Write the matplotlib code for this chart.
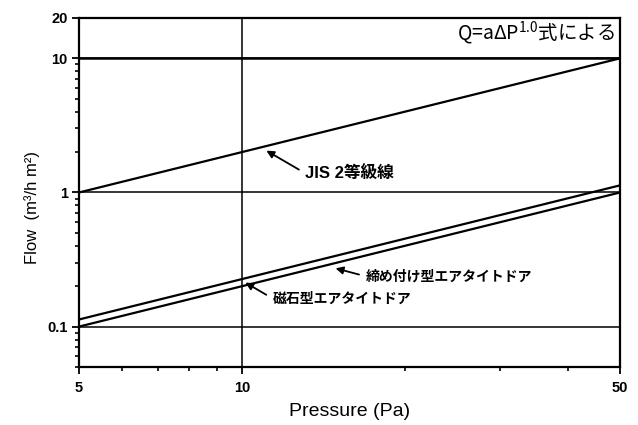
import matplotlib
matplotlib.use('Agg')
import matplotlib.pyplot as plt
from matplotlib.ticker import FixedLocator, FixedFormatter, LogLocator, NullFormatter

plt.rcParams['font.family'] = ['Liberation Sans', 'Noto Sans CJK JP']

# Leakage flow vs pressure difference, Q = a * dP^1.0
pressure = [5, 50]
jis_flow = [1.0, 10.0]
clamp_flow = [0.113, 1.13]
magnet_flow = [0.1, 1.0]

x_ticks = [5, 10, 50]
x_tick_labels = ['5', '10', '50']
x_minor = [6, 7, 8, 9, 20, 30, 40]
y_ticks = [0.1, 1, 10, 20]
y_tick_labels = ['0.1', '1', '10', '20']

label_jis = 'JIS 2等級線'
label_clamp = '締め付け型エアタイトドア'
label_magnet = '磁石型エアタイトドア'
formula = r'Q=aΔ$\mathregular{P^{1.0}}$式による'


def create_chart(save_path):
    fig = plt.figure(figsize=(6.38, 4.25), dpi=100)
    ax = fig.add_axes([0.1238, 0.1365, 0.8480, 0.8212])
    ax.set_xscale('log')
    ax.set_yscale('log')
    ax.set_xlim(5, 50)
    ax.set_ylim(0.05, 20)

    ax.xaxis.set_major_locator(FixedLocator(x_ticks))
    ax.xaxis.set_major_formatter(FixedFormatter(x_tick_labels))
    ax.xaxis.set_minor_locator(FixedLocator(x_minor))
    ax.xaxis.set_minor_formatter(NullFormatter())
    ax.yaxis.set_major_locator(FixedLocator(y_ticks))
    ax.yaxis.set_major_formatter(FixedFormatter(y_tick_labels))
    ax.yaxis.set_minor_locator(LogLocator(base=10, subs=range(2, 10)))
    ax.yaxis.set_minor_formatter(NullFormatter())

    ax.tick_params(which='major', direction='out', length=5, width=1.3,
                   labelsize=10.5, pad=3)
    ax.tick_params(which='minor', direction='out', length=3, width=1.2)
    for lbl in ax.get_xticklabels() + ax.get_yticklabels():
        lbl.set_fontweight('bold')
    ax.tick_params(axis='x', pad=5)

    for s in ax.spines.values():
        s.set_linewidth(1.6)

    ax.grid(which='major', color='black', linewidth=1.1)
    ax.axhline(10, color='black', linewidth=1.8)

    ax.plot(pressure, jis_flow, color='black', linewidth=1.6)
    ax.plot(pressure, clamp_flow, color='black', linewidth=1.6)
    ax.plot(pressure, magnet_flow, color='black', linewidth=1.6)

    arrow = dict(arrowstyle='-|>', color='black', lw=1.3, mutation_scale=11,
                 shrinkA=3, shrinkB=0, relpos=(0, 0.5))
    ax.annotate(label_jis, xy=(11.1, 2.05), xytext=(13.1, 1.39),
                ha='left', va='center', fontsize=12, fontweight='bold',
                arrowprops=arrow)
    ax.annotate(label_clamp, xy=(14.9, 0.272), xytext=(16.95, 0.237),
                ha='left', va='center', fontsize=10, fontweight='bold',
                arrowprops=arrow)
    ax.annotate(label_magnet, xy=(10.15, 0.213), xytext=(11.4, 0.162),
                ha='left', va='center', fontsize=10, fontweight='bold',
                arrowprops=arrow)

    ax.text(0.991, 0.957, formula, transform=ax.transAxes, ha='right',
            va='center', fontsize=14, family='Noto Sans CJK JP')

    fig.text(350 / 638, 1 - 412 / 425, 'Pressure (Pa)', ha='center',
             va='center', fontsize=14)
    fig.text(32 / 638, 1 - 207 / 425, 'Flow  (m³/h m²)', ha='center',
             va='center', rotation=90, fontsize=12)

    fig.savefig(save_path, dpi=100)


if __name__ == '__main__':
    create_chart('out.png')
